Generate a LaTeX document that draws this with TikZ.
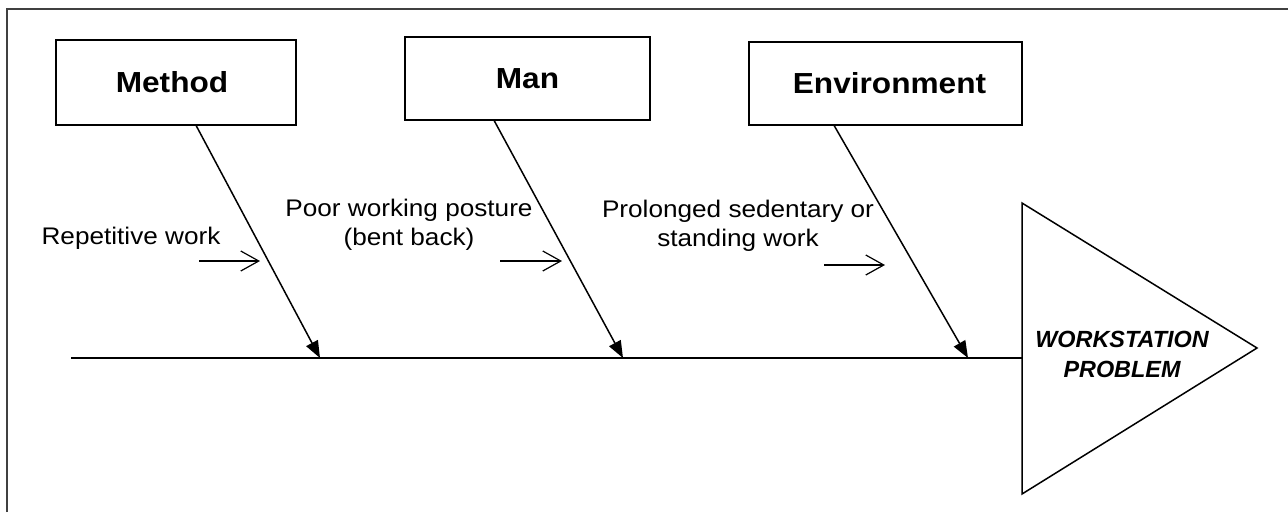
\documentclass[tikz,border=0pt]{standalone}
\usepackage{fontspec}
\setmainfont{Liberation Sans}[FakeStretch=1.09]
\newfontfamily\plainsans{Liberation Sans}
\usetikzlibrary{arrows.meta}
\begin{document}
\begin{tikzpicture}[x=1pt,y=-1pt,
  cause/.style={draw=black,line width=1.5pt,minimum width=#1,inner sep=0pt,font=\fontsize{29}{34}\selectfont\bfseries},
  branch/.style={line width=1.5pt,-{Triangle[length=17pt,width=13pt]}},
  sub/.style={line width=1.2pt,-{Straight Barb[length=18pt,width=20pt,line width=1.2pt]}},
  lbl/.style={font=\fontsize{24}{28.5}\selectfont,align=center,anchor=base,inner sep=0pt},
  frame/.style={draw=black!75,line width=1.5pt}]
\useasboundingbox (0,0) rectangle (1288,512);
% frame
\draw[frame] (7,512) -- (7,9) -- (1290,9);
% cause boxes
\node[cause=240pt,minimum height=85pt] (method) at (176,82.5) {\hspace*{-8pt}Method};
\node[cause=245pt,minimum height=83pt] (man) at (527.5,78.5) {Man};
\node[cause=273pt,minimum height=83pt] (env) at (885.5,83.5) {\hspace*{8pt}Environment};
% head triangle
\coordinate (ttop) at (1022,203);
\coordinate (tbot) at (1022,494);
\coordinate (ttip) at (1257,348);
\coordinate (tmid) at (1022,358);
\draw[line width=1.5pt,line join=miter] (ttop) -- (ttip) -- (tbot) -- cycle;
\node[font=\plainsans\fontsize{23.4}{30}\selectfont\bfseries\itshape,align=center] (effect) at (1122,354) {WORKSTATION\\PROBLEM};
% spine
\coordinate (tail) at (71,358);
\draw[line width=1.5pt] (tail) -- (tmid);
% branch arrows
\coordinate (m1) at (320,358);
\coordinate (m2) at (623,358);
\coordinate (m3) at (968,358);
\draw[branch] ([xshift=141pt]method.south west) -- (m1);
\draw[branch] ([xshift=90pt]man.south west) -- (m2);
\draw[branch] ([xshift=86pt]env.south west) -- (m3);
% sub causes
\node[lbl] (c1) at (131,244) {Repetitive work};
\node[lbl] (c2) at (409,245) {Poor working posture\\(bent back)};
\node[lbl] (c3) at (738,246) {Prolonged sedentary or\\standing work};
\coordinate (a1s) at (199,261); \coordinate (a1e) at (260,261);
\coordinate (a2s) at (500,261); \coordinate (a2e) at (562,261);
\coordinate (a3s) at (824,265); \coordinate (a3e) at (885,265);
\draw[sub] (a1s) -- (a1e);
\draw[sub] (a2s) -- (a2e);
\draw[sub] (a3s) -- (a3e);
\end{tikzpicture}
\end{document}
